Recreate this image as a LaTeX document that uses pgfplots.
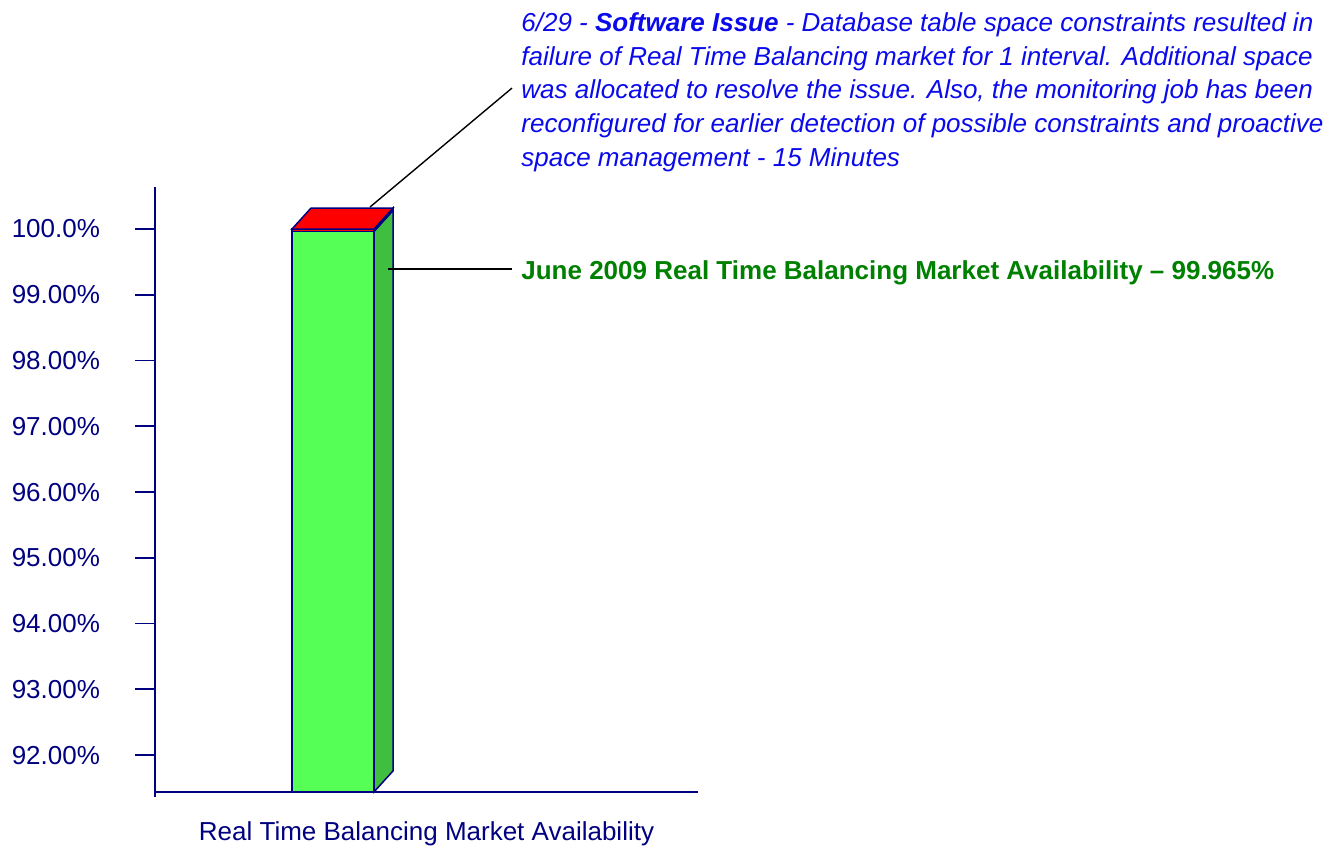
\documentclass[border=0pt]{standalone}
\usepackage{fontspec}
\setmainfont{Liberation Sans}
\usepackage{pgfplots}
\pgfplotsset{compat=1.18}
\definecolor{navy}{RGB}{0,0,128}
\definecolor{barfront}{RGB}{85,255,85}
\definecolor{barside}{RGB}{64,190,64}
\definecolor{notetext}{RGB}{10,10,235}
\definecolor{avgreen}{RGB}{0,128,0}
\newcommand{\chartfont}{\fontsize{13}{16.85}\selectfont}

\begin{document}
\begin{tikzpicture}
\begin{axis}[
    scale only axis,
    width=271.5pt,
    height=302.5pt,
    xmin=0, xmax=1,
    ymin=91.44, ymax=100.64,
    clip=false,
    axis lines*=left,
    axis line style={navy, line width=0.9pt, -},
    y axis line style={shorten <=-2.5pt},
    xtick=\empty,
    ytick={92,93,94,95,96,97,98,99,100},
    yticklabels={92.00\%,93.00\%,94.00\%,95.00\%,96.00\%,97.00\%,98.00\%,99.00\%,100.0\%},
    tick align=outside,
    major tick length=10pt,
    tick style={navy, line width=0.9pt},
    yticklabel style={font=\chartfont, text=navy, xshift=-14pt},
    xlabel={Real Time Balancing Market Availability},
    xlabel style={font=\chartfont, text=navy, yshift=-1.5pt},
]
% front face
\addplot[fill=barfront, draw=navy, line width=0.75pt] coordinates {
    (0.2523,91.44) (0.4033,91.44) (0.4033,99.965) (0.2523,99.965)} -- cycle;
\addplot[fill=red, draw=navy, line width=0.75pt] coordinates {
    (0.2523,99.965) (0.4033,99.965) (0.4033,100) (0.2523,100)} -- cycle;
% side face
\addplot[fill=barside, draw=navy, line width=0.75pt] coordinates {
    (0.4033,91.44) (0.4383,91.759) (0.4383,100.284) (0.4033,99.965)} -- cycle;
\addplot[fill=red, draw=navy, line width=0.75pt] coordinates {
    (0.4033,99.965) (0.4383,100.284) (0.4383,100.319) (0.4033,100)} -- cycle;
% top face
\addplot[fill=red, draw=navy, line width=0.75pt] coordinates {
    (0.2523,100) (0.4033,100) (0.4383,100.319) (0.2873,100.319)} -- cycle;

% leader lines
\draw[black, line width=0.7pt] (axis cs:0.396,100.335) -- (axis cs:0.6575,102.144);
\draw[black, line width=0.7pt] (axis cs:0.429,99.39) -- (axis cs:0.6575,99.39);

% notes
\begin{scope}[every node/.style={anchor=base west, inner sep=0pt, font=\chartfont\itshape, text=notetext}]
\node at (axis cs:0.674,103.011) {6/29 - \textbf{Software Issue} - Database table space constraints resulted in};
\node at (axis cs:0.674,102.494) {failure of Real Time Balancing market for 1 interval. Additional space};
\node at (axis cs:0.674,101.992) {was allocated to resolve the issue. Also, the monitoring job has been};
\node at (axis cs:0.674,101.475) {reconfigured for earlier detection of possible constraints and proactive};
\node at (axis cs:0.674,100.958) {space management - 15 Minutes};
\end{scope}
\node[anchor=base west, inner sep=0pt, font=\chartfont\bfseries, text=avgreen]
    at (axis cs:0.674,99.240) {June 2009 Real Time Balancing Market Availability – 99.965\%};

% page frame
\path (axis cs:-0.2855,90.586) rectangle (axis cs:2.1584,103.483);
\end{axis}
\end{tikzpicture}
\end{document}
